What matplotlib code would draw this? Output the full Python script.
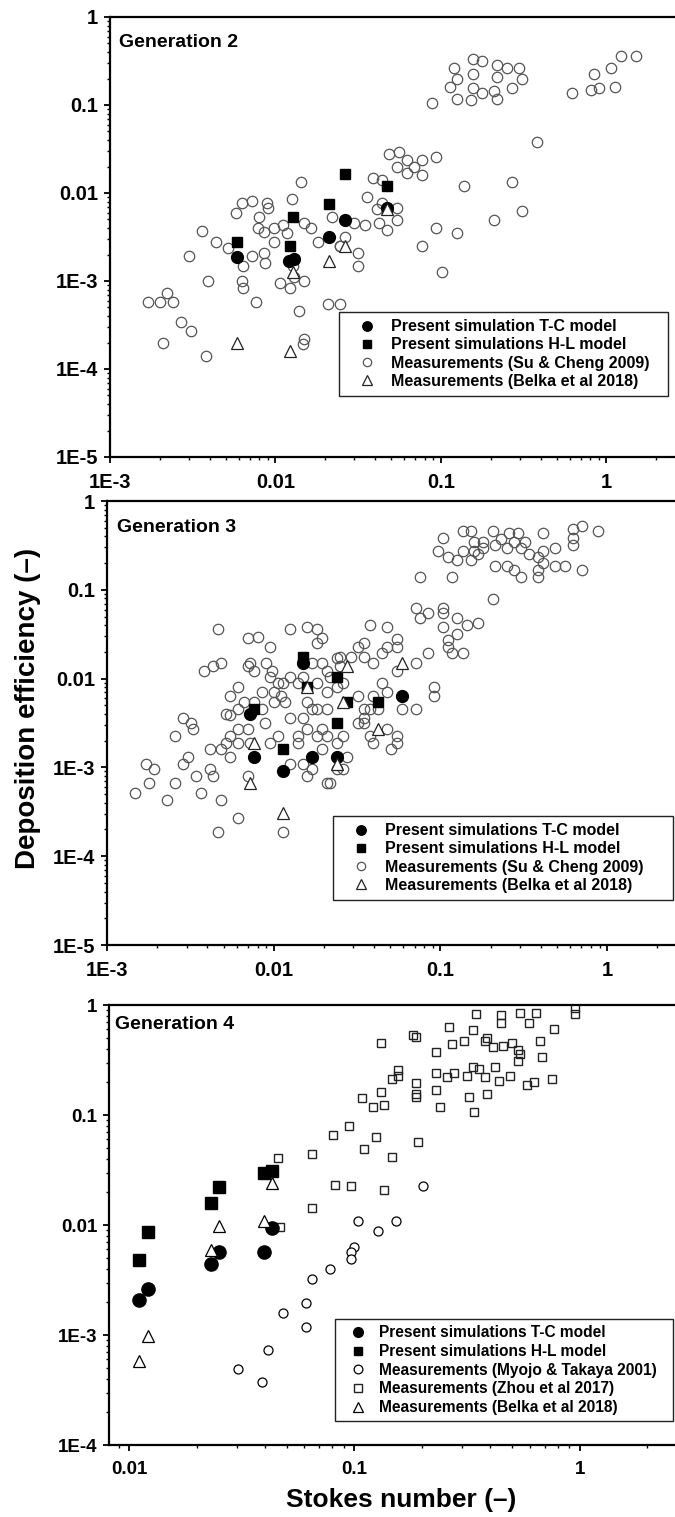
import matplotlib
matplotlib.use("Agg")
import matplotlib.pyplot as plt
from matplotlib.ticker import LogLocator, NullFormatter

plt.rcParams['font.family'] = ['Liberation Sans', 'DejaVu Sans']
plt.rcParams['font.weight'] = 'bold'

# ---------------- Generation 2 ----------------
gen2_su = [
    (0.0143, 0.0132), (0.0063, 0.0077), (0.0072, 0.0081), (0.0089, 0.0077), (0.0090, 0.0068),
    (0.0126, 0.0086), (0.0058, 0.0059), (0.0079, 0.0053), (0.0149, 0.0046), (0.0219, 0.0053),
    (0.0036, 0.0037), (0.0078, 0.0040), (0.0085, 0.0036), (0.0098, 0.0040), (0.0111, 0.0043),
    (0.0117, 0.0035), (0.0163, 0.0040), (0.0044, 0.0028), (0.0098, 0.0028), (0.0181, 0.0028),
    (0.0052, 0.0024), (0.0030, 0.0019), (0.0072, 0.0019), (0.0085, 0.0021), (0.0086, 0.0016),
    (0.0245, 0.0025), (0.0128, 0.0015), (0.0129, 0.0011), (0.0064, 0.0015), (0.0039, 0.0010),
    (0.0063, 0.0010), (0.0064, 0.00084), (0.0106, 0.00095), (0.0122, 0.00084), (0.0149, 0.0010),
    (0.0017, 0.00058), (0.0020, 0.00058), (0.0022, 0.00073), (0.0024, 0.00058), (0.0076, 0.00058),
    (0.0208, 0.00055), (0.0245, 0.00055), (0.0027, 0.00034), (0.0031, 0.00027), (0.0139, 0.00046),
    (0.0021, 0.00020), (0.0149, 0.00022), (0.0147, 0.00019), (0.0038, 0.00014),
    (0.157, 0.333), (0.178, 0.316), (0.120, 0.26), (0.125, 0.195), (0.113, 0.162),
    (0.157, 0.225), (0.219, 0.285), (0.251, 0.26), (0.296, 0.26), (0.311, 0.195),
    (0.219, 0.208), (0.157, 0.154), (0.178, 0.137), (0.209, 0.144), (0.219, 0.117),
    (0.270, 0.154), (0.125, 0.117), (0.152, 0.114), (0.088, 0.105),
    (1.22, 0.36), (1.51, 0.36), (1.07, 0.26), (0.84, 0.225), (1.13, 0.162),
    (0.90, 0.154), (0.81, 0.148), (0.62, 0.137), (0.38, 0.038),
    (0.0485, 0.0277), (0.0557, 0.0292), (0.062, 0.0237), (0.077, 0.0237), (0.093, 0.0256),
    (0.054, 0.0195), (0.069, 0.0195), (0.062, 0.0169), (0.077, 0.016), (0.0388, 0.0148),
    (0.0443, 0.0141), (0.138, 0.012), (0.270, 0.0132), (0.036, 0.009), (0.0443, 0.0077),
    (0.041, 0.0066), (0.054, 0.0068), (0.311, 0.0062), (0.209, 0.0049), (0.030, 0.0046),
    (0.035, 0.0043), (0.042, 0.0046), (0.047, 0.0038), (0.054, 0.0049), (0.093, 0.0040),
    (0.125, 0.0035), (0.0265, 0.0032), (0.0245, 0.0025), (0.0315, 0.0021), (0.0315, 0.0015),
    (0.077, 0.0025), (0.101, 0.00125),
]
gen2_belka = [(0.00585, 0.00020), (0.0122, 0.00016), (0.0128, 0.00125), (0.0212, 0.00167),
              (0.0265, 0.0025), (0.047, 0.0066)]
gen2_tc = [(0.00585, 0.00187), (0.0121, 0.00167), (0.0129, 0.00180), (0.0212, 0.00316),
           (0.0265, 0.0049), (0.047, 0.0068)]
gen2_hl = [(0.00585, 0.0028), (0.0122, 0.0025), (0.0128, 0.0053), (0.0212, 0.0075),
           (0.0265, 0.0164), (0.047, 0.012)]

# ---------------- Generation 3 ----------------
gen3_su = [
    (0.104, 0.388), (0.136, 0.454), (0.152, 0.454), (0.207, 0.454), (0.258, 0.431),
    (0.292, 0.431), (0.413, 0.431), (0.62, 0.484), (0.71, 0.523), (0.88, 0.454),
    (0.158, 0.345), (0.18, 0.345), (0.231, 0.373), (0.213, 0.32), (0.249, 0.292),
    (0.275, 0.345), (0.322, 0.345), (0.303, 0.292), (0.18, 0.292), (0.158, 0.27),
    (0.136, 0.27), (0.097, 0.27), (0.111, 0.234), (0.126, 0.217), (0.152, 0.217),
    (0.167, 0.25), (0.34, 0.25), (0.383, 0.234), (0.413, 0.27), (0.483, 0.292),
    (0.62, 0.388), (0.62, 0.32), (0.413, 0.2), (0.383, 0.167), (0.383, 0.139),
    (0.483, 0.185), (0.559, 0.185), (0.71, 0.167), (0.213, 0.185), (0.249, 0.185),
    (0.275, 0.167), (0.303, 0.139), (0.075, 0.139), (0.118, 0.139), (0.207, 0.079),
    (0.071, 0.063), (0.075, 0.048), (0.084, 0.055), (0.104, 0.063), (0.104, 0.055),
    (0.126, 0.048), (0.145, 0.040), (0.167, 0.042), (0.104, 0.038), (0.126, 0.032),
    (0.111, 0.027), (0.111, 0.0224), (0.118, 0.0192), (0.136, 0.0192), (0.0376, 0.040),
    (0.048, 0.038), (0.055, 0.028), (0.0348, 0.025), (0.0318, 0.0224), (0.048, 0.0224),
    (0.0447, 0.0192), (0.055, 0.0224), (0.0348, 0.0177), (0.0289, 0.0177), (0.0392, 0.015),
    (0.055, 0.0123), (0.0714, 0.015), (0.0837, 0.0192), (0.025, 0.0177), (0.025, 0.0137),
    (0.0218, 0.0103), (0.0261, 0.009), (0.0447, 0.009), (0.048, 0.0071), (0.0318, 0.0063),
    (0.0392, 0.0063), (0.0376, 0.0046), (0.042, 0.0046), (0.0348, 0.0046), (0.0589, 0.0046),
    (0.0714, 0.0046), (0.0916, 0.008), (0.0916, 0.0063), (0.0318, 0.0032), (0.0348, 0.0032),
    (0.0348, 0.0036), (0.048, 0.0027), (0.0261, 0.00226), (0.0376, 0.00226), (0.0392, 0.0019),
    (0.055, 0.00226), (0.055, 0.0019), (0.0502, 0.0016), (0.0238, 0.0019), (0.0275, 0.0013),
    (0.0261, 0.00095), (0.0218, 0.00066),
    (0.00463, 0.0362), (0.00697, 0.0283), (0.00805, 0.0294), (0.0095, 0.0224), (0.0125, 0.0362),
    (0.0158, 0.0381), (0.0182, 0.0362), (0.0195, 0.0283), (0.0182, 0.0252), (0.00382, 0.0123),
    (0.0043, 0.0137), (0.00486, 0.015), (0.00697, 0.0137), (0.0072, 0.015), (0.00762, 0.0123),
    (0.00893, 0.015), (0.0098, 0.0123), (0.0095, 0.0103), (0.0106, 0.009), (0.0114, 0.009),
    (0.0125, 0.0103), (0.014, 0.009), (0.015, 0.0103), (0.0169, 0.015), (0.0195, 0.015),
    (0.021, 0.0123), (0.0238, 0.0171), (0.0061, 0.008), (0.00543, 0.0063), (0.0085, 0.0071),
    (0.0100, 0.0071), (0.0111, 0.0063), (0.0117, 0.0054), (0.0100, 0.0054), (0.0182, 0.009),
    (0.021, 0.0071), (0.0238, 0.008), (0.00663, 0.0054), (0.00762, 0.0054), (0.0085, 0.0046),
    (0.0089, 0.0032), (0.00517, 0.0040), (0.00543, 0.0039), (0.0061, 0.0046), (0.00284, 0.0036),
    (0.00319, 0.0032), (0.00328, 0.0027), (0.00256, 0.00226), (0.0158, 0.0054), (0.0169, 0.0046),
    (0.0182, 0.0046), (0.021, 0.0046), (0.015, 0.0036), (0.0125, 0.0036), (0.0061, 0.0027),
    (0.00697, 0.0027), (0.00543, 0.00226), (0.0061, 0.0019), (0.00517, 0.0019), (0.00486, 0.0016),
    (0.00412, 0.0016), (0.0095, 0.0019), (0.0106, 0.00226), (0.014, 0.00226), (0.0158, 0.0027),
    (0.0182, 0.00226), (0.0195, 0.0027), (0.021, 0.00226), (0.014, 0.0019), (0.0195, 0.0016),
    (0.00304, 0.0013), (0.00543, 0.0013),
    (0.00147, 0.00052), (0.00171, 0.00108), (0.00191, 0.00095), (0.00179, 0.00066), (0.00229, 0.00043),
    (0.00256, 0.00066), (0.00284, 0.00108), (0.00342, 0.00081), (0.00366, 0.00052), (0.00412, 0.00095),
    (0.0043, 0.00081), (0.00486, 0.00043), (0.0072, 0.0019), (0.0061, 0.00027), (0.00463, 0.000185),
    (0.00697, 0.00081), (0.015, 0.00108), (0.0169, 0.00095), (0.0158, 0.00081), (0.021, 0.00066),
    (0.0238, 0.00095), (0.0125, 0.00108), (0.0114, 0.000185),
]
gen3_tc = [(0.0072, 0.0040), (0.0076, 0.0013), (0.0114, 0.00092), (0.015, 0.015),
           (0.0169, 0.0013), (0.0238, 0.0013), (0.0589, 0.0063)]
gen3_hl = [(0.0076, 0.0046), (0.0114, 0.0016), (0.015, 0.0177), (0.0158, 0.0080),
           (0.0238, 0.0103), (0.0238, 0.0032), (0.0275, 0.0054), (0.042, 0.0054)]
gen3_belka = [(0.0076, 0.0019), (0.0072, 0.00066), (0.0114, 0.00031), (0.0158, 0.0080),
              (0.0238, 0.00108), (0.0261, 0.0054), (0.0275, 0.0137), (0.042, 0.0027),
              (0.0589, 0.015)]

# ---------------- Generation 4 ----------------
gen4_tc = [(0.0111, 0.0021), (0.0121, 0.0026), (0.0230, 0.0044), (0.0251, 0.0057),
           (0.0399, 0.0057), (0.0433, 0.0094)]
gen4_hl = [(0.0111, 0.0048), (0.0121, 0.0086), (0.0230, 0.0158), (0.0251, 0.0221),
           (0.0399, 0.0297), (0.0433, 0.031)]
gen4_belka = [(0.0111, 0.00058), (0.0121, 0.00098), (0.0230, 0.0059), (0.0251, 0.0098),
              (0.0399, 0.0109), (0.0433, 0.0241)]
gen4_myojo = [(0.201, 0.0224), (0.1036, 0.0109), (0.153, 0.0109), (0.127, 0.0088),
              (0.0995, 0.0063), (0.097, 0.0057), (0.097, 0.0049), (0.078, 0.0040),
              (0.0651, 0.0032), (0.0613, 0.00195), (0.0482, 0.00158), (0.0613, 0.00118),
              (0.0413, 0.00073), (0.0304, 0.00049), (0.0389, 0.00037)]
gen4_zhou = [
    (0.0458, 0.0407), (0.0467, 0.0096), (0.0651, 0.0442), (0.0651, 0.0143), (0.0803, 0.0658),
    (0.0819, 0.0231), (0.346, 0.828), (0.447, 0.811), (0.447, 0.693), (0.545, 0.846),
    (0.638, 0.846), (0.594, 0.686), (0.955, 0.94), (0.955, 0.828), (0.767, 0.605),
    (0.262, 0.631), (0.335, 0.593), (0.182, 0.534), (0.187, 0.512), (0.131, 0.452),
    (0.271, 0.442), (0.306, 0.471), (0.379, 0.471), (0.389, 0.501), (0.411, 0.415),
    (0.456, 0.423), (0.499, 0.452), (0.531, 0.39), (0.545, 0.359), (0.531, 0.31),
    (0.665, 0.471), (0.679, 0.337), (0.231, 0.374), (0.157, 0.257), (0.147, 0.212),
    (0.157, 0.226), (0.231, 0.241), (0.257, 0.221), (0.276, 0.241), (0.316, 0.226),
    (0.335, 0.273), (0.357, 0.262), (0.379, 0.221), (0.420, 0.273), (0.437, 0.204),
    (0.489, 0.226), (0.582, 0.187), (0.625, 0.2), (0.751, 0.212), (0.187, 0.195),
    (0.187, 0.155), (0.187, 0.146), (0.131, 0.162), (0.231, 0.169), (0.322, 0.146),
    (0.389, 0.155), (0.108, 0.143), (0.121, 0.118), (0.135, 0.123), (0.239, 0.118),
    (0.339, 0.106), (0.0945, 0.0794), (0.1245, 0.0631), (0.110, 0.0491), (0.147, 0.0415),
    (0.191, 0.0569), (0.097, 0.0224), (0.135, 0.0208),
]

ticks_y = [1e-5, 1e-4, 1e-3, 1e-2, 1e-1, 1]
labels_y = ['1E-5', '1E-4', '1E-3', '0.01', '0.1', '1']

W, H = 675, 1517
fig = plt.figure(figsize=(W / 100, H / 100), dpi=100)


def add_ax(left, top, bottom):
    return fig.add_axes([left / W, 1 - bottom / H, 1 - left / W, (bottom - top) / H])


def pts(data):
    return [p[0] for p in data], [p[1] for p in data]


def style(ax, xlim, ylim, xt, xl, fs):
    ax.set_xscale('log')
    ax.set_yscale('log')
    ax.set_xticks(xt)
    ax.set_xticklabels(xl)
    yt = [t for t in ticks_y if ylim[0] <= t <= ylim[1]]
    ax.set_yticks(yt)
    ax.set_yticklabels([labels_y[ticks_y.index(t)] for t in yt])
    ax.xaxis.set_minor_locator(LogLocator(base=10, subs=range(2, 10), numticks=20))
    ax.yaxis.set_minor_locator(LogLocator(base=10, subs=range(2, 10), numticks=20))
    ax.xaxis.set_minor_formatter(NullFormatter())
    ax.yaxis.set_minor_formatter(NullFormatter())
    ax.set_xlim(*xlim)
    ax.set_ylim(*ylim)
    ax.tick_params(which='major', direction='out', length=4.5, width=1.3, labelsize=fs)
    ax.tick_params(which='minor', direction='out', length=2.5, width=1.0)
    ax.tick_params(axis='x', which='major', pad=7)
    ax.tick_params(axis='y', which='major', pad=4)
    ax.spines['right'].set_visible(False)
    for s in ['left', 'bottom', 'top']:
        ax.spines[s].set_linewidth(1.6)


def legend(ax, x0, top, w, fs, hl, htp, bp, ls, sizes):
    leg = ax.legend(loc='upper left', bbox_to_anchor=(x0, top - 0.5, w, 0.5), mode='expand',
                    borderaxespad=0, fontsize=fs, handlelength=hl, handletextpad=htp,
                    borderpad=bp, labelspacing=ls, fancybox=False,
                    framealpha=1, edgecolor='#222222', numpoints=1)
    leg.get_frame().set_linewidth(1.0)
    for h, s in zip(leg.legend_handles, sizes):
        h.set_markersize(s)


grey = '#555555'

# panel 1
ax1 = add_ax(110, 17, 457)
x, y = pts(gen2_tc)
ax1.plot(x, y, 'o', ms=8.5, color='black', label='Present simulation T-C model', zorder=3)
x, y = pts(gen2_hl)
ax1.plot(x, y, 's', ms=7.5, color='black', label='Present simulations H-L model', zorder=3)
x, y = pts(gen2_su)
ax1.plot(x, y, 'o', ms=7.5, mfc='none', mec=grey, mew=0.9, label='Measurements (Su & Cheng 2009)')
x, y = pts(gen2_belka)
ax1.plot(x, y, '^', ms=8.5, mfc='white', mec='#222222', mew=0.9, label='Measurements (Belka et al 2018)', zorder=4)
style(ax1, (1e-3, 2.6), (1e-5, 1), [1e-3, 1e-2, 1e-1, 1], ['1E-3', '0.01', '0.1', '1'], 14.5)
ax1.text(0.016, 0.943, 'Generation 2', transform=ax1.transAxes, fontsize=14, va='center')
legend(ax1, 0.405, 0.3295, 0.582, 11.5, 2.6, 0.2, 0.45, 0.2, [6.8, 6.0, 6.0, 6.8])

# panel 2
ax2 = add_ax(107, 501, 945)
x, y = pts(gen3_tc)
ax2.plot(x, y, 'o', ms=8.5, color='black', label='Present simulations T-C model', zorder=3)
x, y = pts(gen3_hl)
ax2.plot(x, y, 's', ms=7.5, color='black', label='Present simulations H-L model', zorder=3)
x, y = pts(gen3_su)
ax2.plot(x, y, 'o', ms=7.5, mfc='none', mec=grey, mew=0.9, label='Measurements (Su & Cheng 2009)')
x, y = pts(gen3_belka)
ax2.plot(x, y, '^', ms=8.5, mfc='white', mec='#222222', mew=0.9, label='Measurements (Belka et al 2018)', zorder=4)
style(ax2, (1e-3, 2.55), (1e-5, 1), [1e-3, 1e-2, 1e-1, 1], ['1E-3', '0.01', '0.1', '1'], 14.5)
ax2.text(0.0176, 0.941, 'Generation 3', transform=ax2.transAxes, fontsize=14, va='center')
legend(ax2, 0.398, 0.2905, 0.599, 11.5, 2.6, 0.2, 0.45, 0.2, [6.8, 6.0, 6.0, 6.8])

# panel 3
ax3 = add_ax(109, 1005, 1445)
x, y = pts(gen4_tc)
ax3.plot(x, y, 'o', ms=9.5, color='black', label='Present simulations T-C model', zorder=3)
x, y = pts(gen4_hl)
ax3.plot(x, y, 's', ms=9, color='black', label='Present simulations H-L model', zorder=3)
x, y = pts(gen4_myojo)
ax3.plot(x, y, 'o', ms=6.5, mfc='white', mec='black', mew=0.9, label='Measurements (Myojo & Takaya 2001)')
x, y = pts(gen4_zhou)
ax3.plot(x, y, 's', ms=6, mfc='none', mec='#222222', mew=1.0, label='Measurements (Zhou et al 2017)')
x, y = pts(gen4_belka)
ax3.plot(x, y, '^', ms=8, mfc='white', mec='black', mew=0.9, label='Measurements (Belka et al 2018)', zorder=4)
style(ax3, (0.00815, 2.65), (1e-4, 1), [1e-2, 1e-1, 1], ['0.01', '0.1', '1'], 13.5)
ax3.text(0.0106, 0.955, 'Generation 4', transform=ax3.transAxes, fontsize=14, va='center')
legend(ax3, 0.399, 0.286, 0.597, 11.2, 2.17, 0.26, 0.39, 0.24, [7.0, 6.2, 6.3, 5.8, 7.0])

fig.text(28 / W, 1 - 708 / H, 'Deposition efficiency (\u2013)', rotation=90, fontsize=20,
         ha='center', va='center')
fig.text(401 / W, 1 - 1500 / H, 'Stokes number (\u2013)', fontsize=19, ha='center', va='center')

fig.savefig('out.png', dpi=100)
